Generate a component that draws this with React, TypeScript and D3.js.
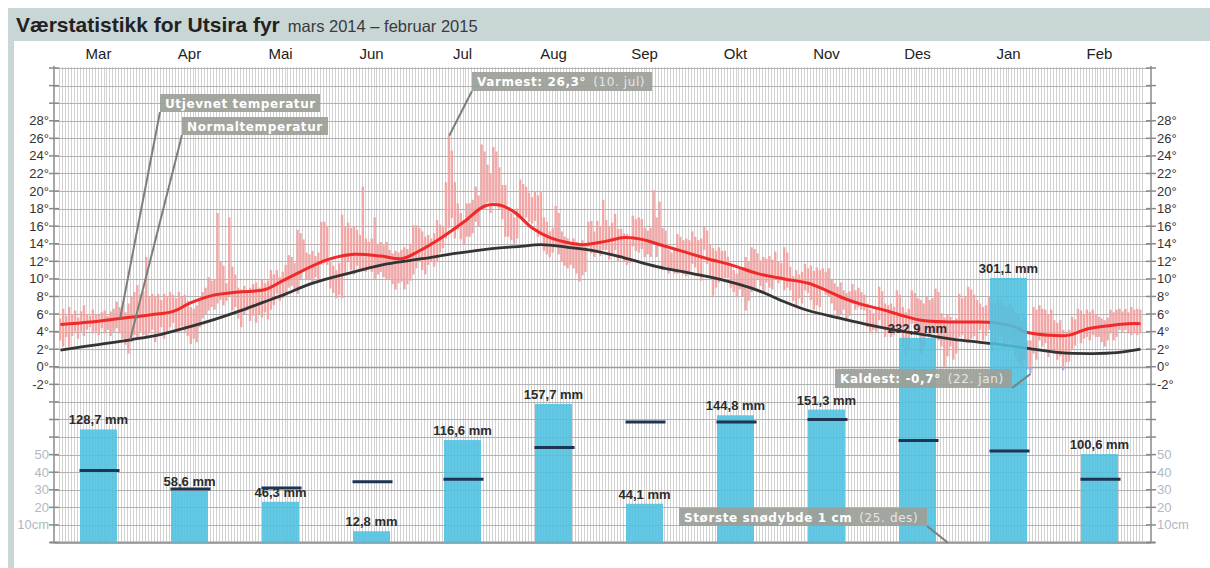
import React from 'react';
import * as d3 from 'd3';

// ---------- DATA ----------
const months = ['Mar', 'Apr', 'Mai', 'Jun', 'Jul', 'Aug', 'Sep', 'Okt', 'Nov', 'Des', 'Jan', 'Feb'];
const precipMm = [128.7, 58.6, 46.3, 12.8, 116.6, 157.7, 44.1, 144.8, 151.3, 232.9, 301.1, 100.6];
const precipNormalMm = [82, 61, 62, 69, 72, 108, 137, 137, 140, 116, 104, 72];
const tempTickValues = [-2, 0, 2, 4, 6, 8, 10, 12, 14, 16, 18, 20, 22, 24, 26, 28];
const snowTickValues = [10, 20, 30, 40, 50];

// daily max / min temperature, 1 Mar 2014 .. 28 Feb 2015
const dailyMax = [
  5.5, 6.6, 5.8, 6.8, 6.0, 6.4, 5.6, 6.3, 7.0, 6.0,
  5.8, 6.5, 6.0, 5.9, 6.2, 6.4, 5.8, 6.3, 6.6, 7.4,
  6.8, 7.0, 6.2, 7.2, 8.0, 8.5, 9.3, 8.2, 8.6, 12.5,
  8.0, 8.3, 8.0, 8.3, 7.6, 8.3, 8.0, 8.5, 8.2, 7.8,
  8.5, 8.0, 8.2, 7.5, 6.8, 6.6, 7.0, 7.8, 8.5, 9.0,
  10.2, 9.8, 10.0, 17.5, 12.0, 11.5, 9.5, 17.0, 11.4, 10.5,
  9.0, 8.8, 9.2, 8.6, 9.0, 9.4, 9.6, 9.0, 10.0, 9.5,
  9.8, 11.0, 10.5, 11.0, 10.2, 10.8, 11.6, 12.7, 12.5, 11.8,
  15.6, 15.2, 14.5, 13.0, 12.8, 13.2, 12.6, 13.0, 16.5, 16.5,
  16.0, 12.0, 11.5, 11.0, 11.8, 17.3, 16.0, 16.4, 15.8, 16.0,
  15.6, 15.0, 20.5, 14.6, 14.2, 14.6, 17.0, 14.0, 14.2, 13.8,
  14.2, 13.3, 12.9, 13.2, 13.0, 13.3, 13.6, 13.4, 14.0, 16.1,
  16.1, 15.8, 15.4, 14.8, 15.0, 14.6, 15.2, 16.7, 16.2, 15.9,
  21.0, 26.3, 24.6, 21.0, 18.6, 17.5, 16.7, 18.6, 18.6, 19.0,
  20.5, 19.5, 25.3, 24.5, 23.0, 22.0, 25.0, 24.5, 22.7, 20.7,
  20.7, 18.2, 17.5, 17.0, 18.0, 21.3, 20.8, 20.5, 19.8, 19.3,
  20.0, 19.5, 20.0, 17.0, 16.5, 15.4, 15.8, 18.3, 17.5, 15.4,
  14.8, 14.6, 14.2, 14.6, 14.2, 13.8, 14.4, 13.8, 16.5, 16.6,
  15.4, 16.6, 16.0, 19.0, 16.7, 16.0, 16.4, 17.4, 15.7, 15.7,
  15.2, 15.1, 14.4, 17.2, 16.8, 17.0, 16.8, 15.8, 15.5, 15.8,
  20.1, 17.0, 18.8, 15.8, 15.5, 13.3, 13.0, 13.3, 15.1, 14.8,
  14.4, 14.6, 14.4, 15.4, 14.8, 14.4, 14.6, 15.9, 15.5, 13.9,
  13.5, 13.2, 13.6, 13.2, 13.2, 12.5, 11.7, 11.0, 10.6, 11.2,
  11.0, 12.5, 12.0, 13.6, 13.4, 12.9, 12.1, 12.5, 12.3, 12.6,
  12.2, 13.1, 12.0, 11.8, 13.6, 13.0, 11.4, 10.3, 11.0, 10.5,
  10.8, 11.7, 11.2, 11.5, 10.9, 11.3, 11.0, 11.2, 10.8, 11.2,
  9.9, 9.5, 9.1, 9.6, 8.7, 8.4, 8.6, 9.4, 8.7, 9.0,
  8.5, 8.2, 7.2, 6.5, 6.1, 6.8, 9.1, 8.6, 7.2, 7.0,
  7.2, 6.8, 8.7, 8.2, 6.8, 6.2, 6.6, 8.7, 8.4, 7.8,
  7.6, 7.2, 8.0, 7.6, 7.8, 8.9, 8.5, 6.1, 5.6, 6.0,
  5.7, 5.3, 5.5, 8.3, 7.8, 8.0, 9.1, 8.8, 8.2, 7.6,
  7.2, 6.8, 7.0, 8.0, 7.5, 7.2, 7.6, 7.6, 7.0, 6.8,
  7.2, 6.8, 6.1, 5.8, 5.3, 5.6, 3.0, 3.0, 6.8, 6.5,
  7.0, 6.6, 6.5, 6.0, 6.5, 5.3, 5.0, 5.3, 4.2, 4.0,
  4.2, 5.7, 5.4, 6.6, 6.4, 6.0, 6.5, 6.2, 6.5, 6.0,
  5.7, 5.5, 5.3, 5.6, 6.5, 6.2, 6.5, 6.6, 6.3, 6.6,
  6.2, 6.8, 6.5, 6.6, 6.5,
];
const dailyMin = [
  3.0, 2.3, 3.4, 2.3, 3.5, 4.0, 3.2, 4.0, 3.5, 4.2,
  4.5, 3.8, 4.0, 3.6, 4.4, 3.8, 4.2, 3.5, 4.0, 4.4,
  3.8, 3.2, 2.5, 1.5, 2.8, 3.6, 3.4, 4.0, 3.6, 3.4,
  3.8, 4.2, 2.8, 3.5, 4.5, 3.2, 3.8, 4.5, 5.0, 4.2,
  3.8, 4.6, 4.0, 3.5, 2.6, 3.2, 2.8, 4.5, 5.5, 6.0,
  6.4, 6.8, 6.5, 7.2, 7.6, 7.0, 7.5, 8.0, 6.4, 6.8,
  5.5, 4.5, 6.0, 6.4, 5.2, 5.8, 5.0, 6.0, 5.6, 6.2,
  5.4, 6.5, 7.0, 8.3, 7.5, 7.8, 8.4, 9.0, 9.2, 8.8,
  8.3, 10.0, 10.8, 9.9, 10.0, 9.6, 10.2, 9.9, 11.6, 11.8,
  11.6, 8.9, 8.4, 7.8, 8.2, 7.8, 10.5, 12.0, 11.0, 10.5,
  11.5, 11.0, 11.0, 10.8, 11.2, 10.8, 10.0, 10.5, 10.8, 10.2,
  10.0, 10.0, 9.4, 8.8, 9.5, 9.7, 8.8, 9.4, 9.8, 10.5,
  11.2, 12.0, 11.0, 10.5, 11.6, 12.0, 11.4, 11.9, 13.0, 13.5,
  14.6, 15.8, 16.9, 14.6, 15.6, 14.5, 13.9, 14.8, 14.8, 15.2,
  16.5, 16.0, 18.3, 18.0, 18.7, 17.5, 18.7, 18.5, 18.0, 16.8,
  14.8, 14.8, 14.4, 14.0, 14.6, 17.0, 16.8, 17.0, 16.5, 16.3,
  16.6, 14.8, 15.2, 13.2, 12.8, 12.5, 13.0, 13.6, 12.8, 11.9,
  11.5, 11.2, 11.6, 11.2, 10.6, 9.7, 10.4, 10.8, 13.6, 12.9,
  12.5, 13.0, 12.6, 13.3, 13.3, 12.2, 12.8, 13.3, 12.0, 12.4,
  12.0, 11.6, 11.8, 13.7, 13.2, 13.0, 13.4, 12.5, 12.8, 12.5,
  14.1, 12.5, 13.7, 11.0, 11.4, 10.6, 11.0, 10.6, 10.6, 11.0,
  10.5, 10.3, 10.8, 11.7, 11.3, 10.4, 9.8, 13.3, 11.7, 10.1,
  8.1, 9.0, 9.6, 10.1, 10.1, 10.1, 9.0, 8.5, 7.9, 8.8,
  8.0, 6.4, 7.5, 8.5, 8.8, 10.0, 9.2, 8.5, 9.6, 9.0,
  8.8, 10.4, 9.5, 9.8, 8.7, 9.0, 8.7, 7.5, 6.8, 7.8,
  7.2, 8.7, 8.4, 7.6, 6.5, 7.0, 6.8, 8.7, 8.2, 8.0,
  7.2, 6.4, 5.7, 6.0, 6.5, 5.4, 5.8, 7.2, 6.5, 6.8,
  6.5, 6.4, 4.5, 3.8, 4.2, 4.0, 5.3, 4.6, 3.4, 3.8,
  3.4, 3.6, 4.2, 4.5, 2.3, 1.5, 2.0, 4.9, 4.5, 4.0,
  1.5, 2.2, 4.2, 3.4, 3.8, 3.8, 3.0, 2.3, 0.0, 1.2,
  2.3, 0.8, 1.5, 3.4, 3.6, 3.0, 2.7, 3.2, 3.5, 2.8,
  4.2, 3.0, 3.5, 4.2, 1.5, 2.5, 3.0, 3.4, 1.9, 2.6,
  3.0, 2.2, 1.1, 0.5, 0.0, 0.8, -0.3, -0.7, 1.5, 0.8,
  3.0, 2.3, 2.7, 1.1, 2.0, 1.5, 0.8, 1.2, -0.4, 0.5,
  0.6, 1.9, 2.4, 3.8, 2.7, 3.2, 3.4, 3.0, 3.6, 3.4,
  3.4, 2.8, 2.3, 3.0, 3.8, 3.0, 3.4, 4.2, 4.0, 4.2,
  3.8, 3.6, 3.8, 3.6, 3.8,
];

// smoothed temperature ("Utjevnet temperatur"), read at these day indexes
const smoothDays = [0, 10, 20, 30, 38, 44, 51, 60, 69, 75, 82, 90, 99, 108, 115, 121, 128, 136, 143, 148, 153, 159, 165, 170, 176, 184, 190, 196, 201, 210, 218, 226, 235, 244, 252, 258, 264, 270, 277, 283, 290, 299, 308, 315, 321, 326, 333, 340, 346, 354, 360, 364];
const smoothTemp = [4.8, 5.1, 5.5, 5.9, 6.3, 7.3, 8.1, 8.5, 8.8, 9.8, 11.0, 12.2, 12.8, 12.6, 12.3, 13.2, 14.6, 16.5, 18.3, 18.4, 17.6, 15.8, 14.7, 14.2, 13.9, 14.3, 14.7, 14.5, 14.0, 13.1, 12.3, 11.6, 10.6, 10.0, 9.5, 8.7, 7.8, 7.1, 6.5, 5.9, 5.3, 5.1, 5.1, 5.0, 4.6, 3.9, 3.6, 3.6, 4.3, 4.7, 4.9, 4.9];

// normal temperature ("Normaltemperatur")
const normalDays = [0, 12, 24, 34, 44, 52, 60, 68, 76, 84, 92, 99, 110, 122, 133, 144, 155, 162, 171, 180, 190, 201, 213, 224, 235, 244, 252, 263, 272, 281, 292, 304, 315, 326, 337, 348, 356, 364];
const normalTemp = [1.9, 2.5, 3.1, 3.7, 4.6, 5.4, 6.3, 7.3, 8.3, 9.4, 10.2, 10.8, 11.7, 12.3, 12.9, 13.4, 13.7, 13.9, 13.6, 13.2, 12.4, 11.4, 10.6, 9.8, 8.7, 7.4, 6.4, 5.5, 4.8, 4.2, 3.6, 3.0, 2.6, 2.1, 1.6, 1.5, 1.6, 2.0];

// ---------- CHART ----------
const W = 1210;
const H = 568;
const AXL = 54;
const AXR = 1151;
const GRID_TOP = 67;
const BASE = 542.5;

const yT = d3.scaleLinear().domain([-20, 32]).range([BASE, 85.6]);
const yP = (mm: number) => yT(-20 + mm / 10);
const ySnow = (cm: number) => yT(-20 + cm / 5);
const xD = d3.scaleLinear().domain([0, 365]).range([59, 1142]);
const xM = d3.scaleBand<string>().domain(months).range([53, 1145]);

const FONT = 'Liberation Sans, Arial, sans-serif';
const LFONT = 'DejaVu Sans, Verdana, sans-serif';

function Callout({ x, y, w, h, main, extra, lx1, ly1, lx2, ly2 }: any) {
  return (
    <g>
      <line x1={lx1} y1={ly1} x2={lx2} y2={ly2} stroke="#7d7f7a" strokeWidth={2} />
      <rect x={x} y={y} width={w} height={h} fill="#9c9f97" opacity={0.92} />
      <text x={x + 5} y={y + h / 2 + 4.5} fontFamily={LFONT} fontSize={12} fill="#ffffff" letterSpacing={0.6}>
        <tspan fontWeight="bold">{main}</tspan>
        {extra ? <tspan fill="#e6e6e6" dx={7} letterSpacing={0.6}>{extra}</tspan> : null}
      </text>
    </g>
  );
}

export default function App() {
  const days = d3.range(365);
  const dw = xD(1) - xD(0);
  const gridYs = d3.range(-20, 36, 2);

  const smoothLine = d3.line<number>()
    .x((_, i) => xD(smoothDays[i] + 0.5))
    .y((d) => yT(d))
    .curve(d3.curveCatmullRom.alpha(0.5));
  const normalLine = d3.line<number>()
    .x((_, i) => xD(normalDays[i] + 0.5))
    .y((d) => yT(d))
    .curve(d3.curveCatmullRom.alpha(0.5));

  return (
    <svg width={W} height={H} style={{ position: 'absolute', left: 0, top: 0 }} xmlns="http://www.w3.org/2000/svg">
      <rect x={0} y={0} width={W} height={H} fill="#ffffff" />
      {/* frame */}
      <rect x={8} y={8} width={W - 8} height={33} fill="#c9d6d6" />
      <rect x={8} y={8} width={6} height={H - 8} fill="#c9d6d6" />
      <text x={16} y={32} fontFamily={FONT} fontSize={21} fontWeight="bold" fill="#222">
        Værstatistikk for Utsira fyr
        <tspan fontSize={16.5} fontWeight="normal" fill="#3a3a3a" dx={8}>mars 2014 – februar 2015</tspan>
      </text>

      {/* month labels */}
      {months.map((m) => (
        <text key={m} x={(xM(m) as number) + xM.bandwidth() / 2} y={59} textAnchor="middle" fontFamily={FONT} fontSize={15} fill="#222">{m}</text>
      ))}

      {/* vertical daily grid */}
      {d3.range(366).map((d) => (
        <line key={'v' + d} x1={Math.round(xD(d)) + 0.5} x2={Math.round(xD(d)) + 0.5} y1={GRID_TOP} y2={BASE} stroke="#d2d2d2" strokeWidth={1} />
      ))}
      {/* horizontal grid */}
      {gridYs.map((t) => (
        <line key={'h' + t} x1={AXL} x2={AXR} y1={Math.round(yT(t)) + 0.5} y2={Math.round(yT(t)) + 0.5} stroke={t === 0 ? '#9a9a9a' : '#b3b3b3'} strokeWidth={t === 0 ? 1.5 : 1} />
      ))}
      <line x1={AXL - 4} x2={AXR + 4} y1={BASE} y2={BASE} stroke="#9a9a9a" strokeWidth={2} />

      {/* axes */}
      <line x1={AXL} x2={AXL} y1={GRID_TOP - 1} y2={BASE} stroke="#8a8a8a" strokeWidth={1.5} />
      <line x1={AXR} x2={AXR} y1={GRID_TOP - 1} y2={BASE} stroke="#8a8a8a" strokeWidth={1.5} />
      {gridYs.map((t) => (
        <g key={'tk' + t}>
          <line x1={AXL - 5} x2={AXL + 5} y1={yT(t)} y2={yT(t)} stroke="#8a8a8a" strokeWidth={1.5} />
          <line x1={AXR - 5} x2={AXR + 5} y1={yT(t)} y2={yT(t)} stroke="#8a8a8a" strokeWidth={1.5} />
        </g>
      ))}
      {tempTickValues.map((t) => (
        <g key={'tl' + t}>
          <text x={AXL - 5} y={yT(t) + 4.5} textAnchor="end" fontFamily={FONT} fontSize={13} fill="#333">{t}°</text>
          <text x={AXR + 6} y={yT(t) + 4.5} textAnchor="start" fontFamily={FONT} fontSize={13} fill="#333">{t}°</text>
        </g>
      ))}
      {snowTickValues.map((c) => (
        <g key={'sl' + c}>
          <text x={AXL - 5} y={ySnow(c) + 4.5} textAnchor="end" fontFamily={FONT} fontSize={13} fill="#b0b8c4">{c === 10 ? '10cm' : c}</text>
          <text x={AXR + 6} y={ySnow(c) + 4.5} textAnchor="start" fontFamily={FONT} fontSize={13} fill="#b0b8c4">{c === 10 ? '10cm' : c}</text>
        </g>
      ))}

      {/* daily temperature ranges */}
      {days.map((d) => {
        const hi = dailyMax[d];
        const lo = dailyMin[d];
        const x = xD(d);
        const top = yT(hi);
        const posBottom = yT(Math.max(lo, 0));
        return (
          <g key={'d' + d}>
            {hi > Math.max(lo, 0) ? <rect x={x} y={top} width={dw - 0.6} height={posBottom - top} fill="#f2a2a2" opacity={0.95} /> : null}
            {lo < 0 ? <rect x={x} y={yT(Math.min(hi, 0))} width={dw - 0.6} height={yT(lo) - yT(Math.min(hi, 0))} fill="#a9a3e6" opacity={0.9} /> : null}
          </g>
        );
      })}

      {/* precipitation labels */}
      {months.map((m, i) => (
        <text key={'pl' + m} x={(xM(m) as number) + xM.bandwidth() / 2} y={yP(precipMm[i]) - 5} textAnchor="middle" fontFamily={FONT} fontSize={13} fontWeight="bold" fill="#2b2b2b">
          {precipMm[i].toFixed(1).replace('.', ',')} mm
        </text>
      ))}

      {/* lines */}
      <path d={smoothLine(smoothTemp) as string} fill="none" stroke="#ee2a2a" strokeWidth={3} />
      <path d={normalLine(normalTemp) as string} fill="none" stroke="#333333" strokeWidth={2.8} />

      {/* precipitation bars */}
      {months.map((m, i) => {
        const cx = (xM(m) as number) + xM.bandwidth() / 2;
        return <rect key={'pb' + m} x={cx - 18.5} y={yP(precipMm[i])} width={37} height={BASE - yP(precipMm[i])} fill="#4cc0e0" opacity={0.88} />;
      })}
      {months.map((m, i) => {
        const cx = (xM(m) as number) + xM.bandwidth() / 2;
        return <line key={'pn' + m} x1={cx - 19} x2={cx + 21} y1={yP(precipNormalMm[i])} y2={yP(precipNormalMm[i])} stroke="#1d3552" strokeWidth={3} />;
      })}

      {/* callouts */}
      <Callout x={160} y={94} w={160} h={18} main="Utjevnet temperatur" lx1={160} ly1={112} lx2={xD(20.6)} ly2={yT(5.5)} />
      <Callout x={182} y={117} w={146} h={18} main="Normaltemperatur" lx1={182} ly1={135} lx2={xD(24)} ly2={yT(3.1)} />
      <Callout x={472} y={72} w={180} h={19} main="Varmest: 26,3°" extra="(10. jul)" lx1={472} ly1={91} lx2={xD(131.5)} ly2={yT(26.3)} />
      <Callout x={835} y={369} w={177} h={19} main="Kaldest: -0,7°" extra="(22. jan)" lx1={1012} ly1={388} lx2={xD(327.5)} ly2={yT(-0.8)} />
      <Callout x={679} y={508} w={248} h={18} main="Største snødybde 1 cm" extra="(25. des)" lx1={927} ly1={526} lx2={xD(299.5)} ly2={BASE} />
    </svg>
  );
}
